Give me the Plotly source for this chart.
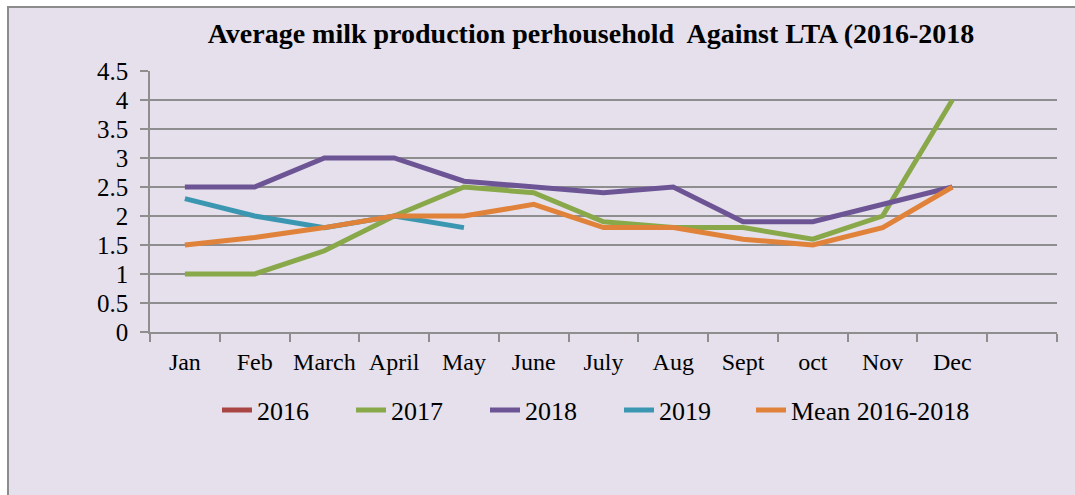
import plotly.graph_objects as go

# Monthly average milk production per household
months = ["Jan", "Feb", "March", "April", "May", "June",
          "July", "Aug", "Sept", "oct", "Nov", "Dec"]
y2016 = [None] * 12
y2017 = [1.0, 1.0, 1.4, 2.0, 2.5, 2.4, 1.9, 1.8, 1.8, 1.6, 2.0, 4.0]
y2018 = [2.5, 2.5, 3.0, 3.0, 2.6, 2.5, 2.4, 2.5, 1.9, 1.9, 2.2, 2.5]
y2019 = [2.3, 2.0, 1.8, 2.0, 1.8]
mean_2016_2018 = [1.5, 1.63, 1.8, 2.0, 2.0, 2.2, 1.8, 1.8, 1.6, 1.5, 1.8, 2.5]

series = [
    ("2016", y2016, "#A94543", "legend"),
    ("2017", y2017, "#88A84A", "legend"),
    ("2018", y2018, "#6D5595", "legend"),
    ("2019", y2019, "#3B97B1", "legend"),
    ("Mean 2016-2018", mean_2016_2018, "#E0823A", "legend2"),
]

W, H = 1075, 495
L, R, T, B = 150, 18, 71, 163
FONT = "Times New Roman"
GRID = "#8E8E8E"

fig = go.Figure()
for name, vals, color, leg in series:
    fig.add_trace(go.Scatter(
        x=months[:len(vals)], y=vals, name=name, mode="lines",
        line=dict(color=color, width=5),
        connectgaps=False, legend=leg,
    ))

# chart area background with border
pw = W - L - R
ph = H - T - B
fig.add_shape(type="rect", xref="paper", yref="paper", layer="below",
              x0=(8 - L) / pw, x1=(W + 10 - L) / pw,
              y0=-(H + 10 - (H - B)) / ph, y1=((H - B) - 7) / ph,
              fillcolor="#E5E0EC", line=dict(color="#8C8C8C", width=2))

legend_common = dict(
    orientation="h", xanchor="left",
    y=-(410 - (H - B)) / ph, yanchor="middle", yref="paper",
    font=dict(family=FONT, size=26, color="black"),
    bgcolor="rgba(0,0,0,0)", itemwidth=30, tracegroupgap=0,
)

fig.update_layout(
    width=W, height=H, autosize=False,
    margin=dict(l=L, r=R, t=T, b=B),
    paper_bgcolor="white",
    plot_bgcolor="rgba(0,0,0,0)",
    font=dict(family=FONT, size=24, color="black"),
    title=dict(
        text="<b>Average milk production perhousehold  Against LTA (2016-2018</b>",
        x=591 / W, xanchor="center", xref="container",
        y=1 - 33 / H, yanchor="middle", yref="container",
        font=dict(family=FONT, size=28, color="black"),
    ),
    showlegend=True,
    legend=dict(x=(217 - L) / pw, entrywidth=89, entrywidthmode="pixels",
                **legend_common),
    legend2=dict(x=(751 - L) / pw, **legend_common),
    xaxis=dict(
        type="category", categoryarray=months + [" "], categoryorder="array",
        range=[-0.5, 12.5], tickson="boundaries",
        tickvals=months + [" "], tickangle=0,
        ticks="outside", ticklen=8, tickcolor=GRID, tickwidth=1.5,
        showline=True, linecolor=GRID, linewidth=1.5,
        showgrid=False, zeroline=False, ticklabelstandoff=7,
        tickfont=dict(family=FONT, size=24),
    ),
    yaxis=dict(
        range=[0, 4.5], dtick=0.5, tick0=0,
        ticks="outside", ticklen=8, tickcolor=GRID, tickwidth=1.5,
        showline=True, linecolor=GRID, linewidth=1.5,
        showgrid=True, gridcolor=GRID, gridwidth=1.5, zeroline=False,
        ticklabelstandoff=7,
        tickfont=dict(family=FONT, size=25),
    ),
)

fig.write_html("out.html")
